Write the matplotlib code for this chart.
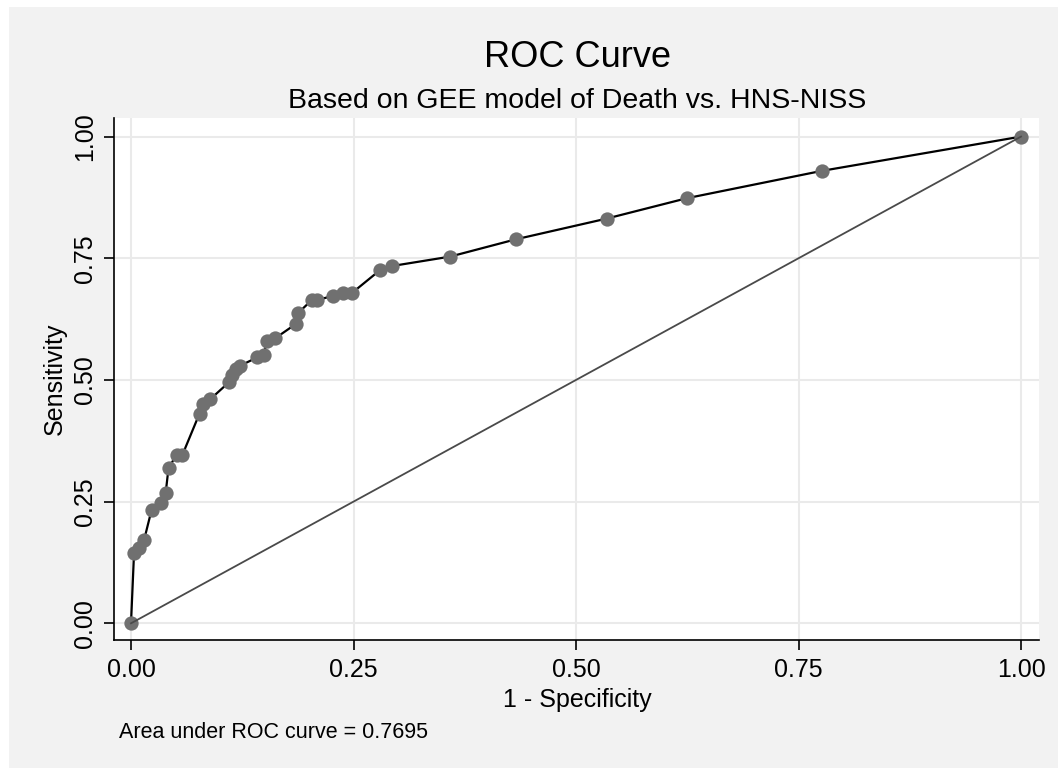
import matplotlib
matplotlib.use("Agg")
import matplotlib.pyplot as plt
from matplotlib.patches import Rectangle

plt.rcParams["font.family"] = ["Liberation Sans", "DejaVu Sans"]

# ROC points (1 - specificity, sensitivity)
fpr = [0.0, 0.0034, 0.0095, 0.0146, 0.0232, 0.0333, 0.039, 0.0422, 0.0513, 0.0577,
       0.0770, 0.0813, 0.0888, 0.1105, 0.1130, 0.1180, 0.1220, 0.1420, 0.1494, 0.1524,
       0.1620, 0.1852, 0.1875, 0.2030, 0.2086, 0.2266, 0.2386, 0.2478, 0.2800, 0.2930,
       0.3585, 0.4325, 0.5344, 0.6243, 0.7760, 1.0]
tpr = [0.0, 0.1438, 0.1550, 0.1705, 0.2335, 0.2470, 0.2685, 0.3197, 0.3458, 0.3458,
       0.4310, 0.4500, 0.4600, 0.4960, 0.5100, 0.5230, 0.5287, 0.5465, 0.5510, 0.5805,
       0.5856, 0.6150, 0.6370, 0.6640, 0.6640, 0.6725, 0.6780, 0.6780, 0.7260, 0.7340,
       0.7534, 0.7890, 0.8315, 0.8733, 0.9295, 1.0]
ref_line = [0.0, 1.0]
ticks = [0.0, 0.25, 0.5, 0.75, 1.0]
tick_labels = ["0.00", "0.25", "0.50", "0.75", "1.00"]
auc_text = "Area under ROC curve = 0.7695"

W, H = 1058, 772
fig = plt.figure(figsize=(W / 100, H / 100), dpi=100, facecolor="white")
fig.patches.append(Rectangle((9 / W, 4 / H), 1 - 9 / W, 1 - 11 / H,
                             transform=fig.transFigure, facecolor="#f2f2f2",
                             edgecolor="none", zorder=-10))

ax = fig.add_axes([114 / W, (H - 640) / H, (1039 - 114) / W, (640 - 118) / H])
ax.set_facecolor("white")

ax.plot(fpr, tpr, color="black", linewidth=1.6, marker="o", markersize=10.3,
        markerfacecolor="#707070", markeredgewidth=0, zorder=3, clip_on=False)
ax.plot(ref_line, ref_line, color="#4a4a4a", linewidth=1.3, zorder=4)

ax.set_xlim(-0.0191, 1.0202)
ax.set_ylim(-0.0343, 1.0382)
ax.set_xticks(ticks)
ax.set_yticks(ticks)
ax.set_xticklabels(tick_labels)
ax.set_yticklabels(tick_labels)
ax.grid(True, color="#eaeaea", linewidth=1.5, zorder=0)
ax.set_axisbelow(True)

for s in ["top", "right"]:
    ax.spines[s].set_visible(False)
for s in ["left", "bottom"]:
    ax.spines[s].set_linewidth(1.2)
    ax.spines[s].set_color("black")

ax.tick_params(axis="both", direction="out", length=7.5, width=1.2,
               labelsize=18, color="black")
ax.tick_params(axis="x", pad=5.4)
ax.tick_params(axis="y", pad=4.6, labelrotation=90)
plt.setp(ax.get_yticklabels(), va="center")

ax.set_xlabel("1 - Specificity", fontsize=18)
ax.xaxis.label.set_verticalalignment("baseline")
ax.xaxis.set_label_coords(0.5005, -(706.7 - 640) / 522)
ax.set_ylabel("Sensitivity", fontsize=18)
ax.yaxis.label.set_verticalalignment("baseline")
ax.yaxis.set_label_coords(-(114 - 62) / 925, 0.5)

fig.text(577 / W, 1 - 66.7 / H, "ROC Curve", ha="center", va="baseline", fontsize=26)
fig.text(577 / W, 1 - 108 / H, "Based on GEE model of Death vs. HNS-NISS",
         ha="center", va="baseline", fontsize=20.5)
fig.text(119.3 / W, 1 - 738.3 / H, auc_text, ha="left", va="baseline", fontsize=15.5)

fig.savefig("out.png", dpi=100, facecolor=fig.get_facecolor())
